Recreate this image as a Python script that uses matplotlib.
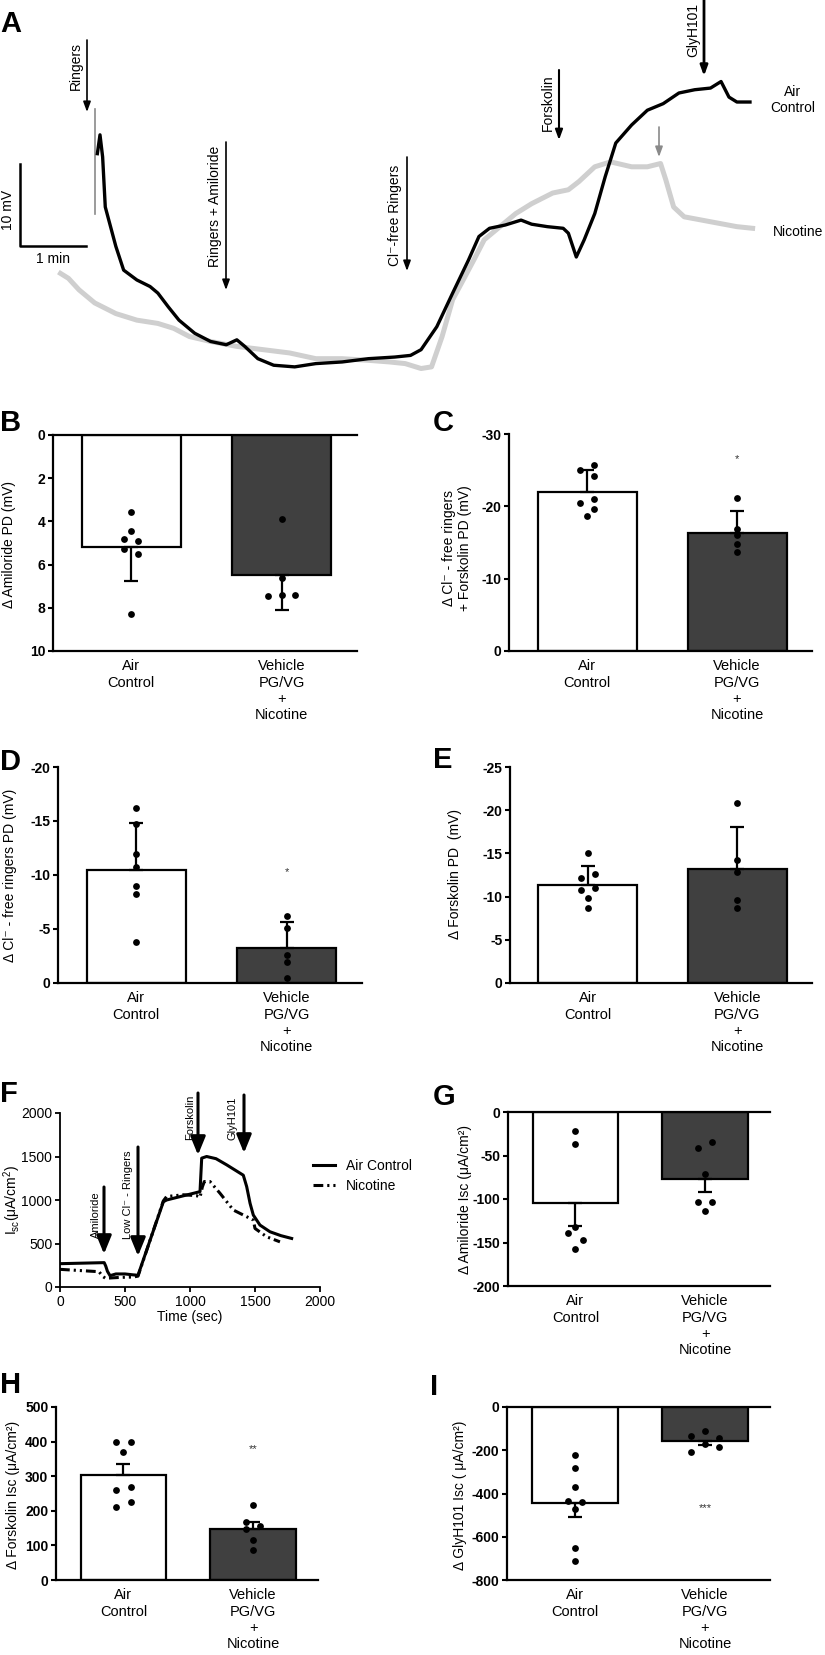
import matplotlib
matplotlib.use("Agg")
import matplotlib.pyplot as plt

plt.rcParams['font.family'] = ['Liberation Sans', 'DejaVu Sans']
plt.rcParams['mathtext.fontset'] = 'custom'
plt.rcParams['mathtext.rm'] = 'Liberation Sans'

# ---- panel A: PD traces (time in s, potential in mV) ----
air_t = [88.5, 90.9, 93.3, 95.7, 100.5, 105.3, 112.4, 124.4, 136.4, 143.5,
         153.1, 162.7, 177.0, 191.4, 205.7, 215.3, 222.5, 234.4, 248.8, 267.9,
         287.1, 311.0, 334.9, 358.9, 373.2, 382.8, 397.1, 411.5, 425.8, 435.4,
         445.0, 459.3, 473.7, 483.3, 497.6, 512.0, 516.7, 523.9, 531.1, 540.7,
         550.2, 559.8, 574.2, 588.5, 602.9, 617.2, 631.6, 645.9, 655.5, 662.7,
         669.9, 681.8]
air_mv = [27.6, 29.9, 27.2, 21.1, 18.7, 16.3, 13.4, 12.2, 11.4, 10.6,
          8.9, 7.3, 5.7, 4.7, 4.3, 4.9, 4.1, 2.6, 1.8, 1.6,
          2.0, 2.2, 2.6, 2.8, 3.0, 3.7, 6.5, 10.6, 14.6, 17.5,
          18.5, 18.9, 19.5, 19.0, 18.7, 18.5, 17.9, 15.0, 17.1, 20.3,
          24.8, 28.9, 31.1, 32.9, 33.7, 35.0, 35.4, 35.6, 36.4, 34.5,
          33.9, 33.9]
nic_t = [55.0, 62.2, 71.8, 86.1, 105.3, 124.4, 143.5, 157.9, 172.2, 191.4,
         215.3, 239.2, 263.2, 287.1, 311.0, 334.9, 354.1, 368.4, 382.8, 392.3,
         401.9, 411.5, 421.1, 430.6, 440.2, 454.5, 468.9, 483.3, 502.4, 516.7,
         526.3, 540.7, 555.0, 574.2, 588.5, 600.5, 605.3, 612.4, 622.0, 645.9,
         669.9, 684.2]
nic_mv = [13.0, 12.4, 11.0, 9.4, 8.1, 7.3, 6.9, 6.3, 5.3, 4.7,
          4.1, 3.7, 3.3, 2.6, 2.6, 2.4, 2.2, 2.0, 1.4, 1.6,
          5.3, 9.8, 12.2, 14.6, 17.1, 18.7, 20.3, 21.5, 22.8, 23.2,
          24.2, 26.0, 26.6, 26.0, 26.0, 26.4, 24.4, 21.1, 19.9, 19.3,
          18.7, 18.5]

# ---- panel F: Isc traces ----
f_air_t = [0, 340, 352, 365, 385, 430, 500, 560, 600, 795, 820, 1077,
           1090, 1128, 1200, 1282, 1410, 1436, 1462, 1487, 1538, 1615, 1700, 1782]
f_air_v = [268, 280, 240, 180, 130, 150, 150, 140, 135, 980, 1000, 1096,
           1481, 1500, 1475, 1404, 1285, 1154, 962, 827, 712, 635, 590, 558]
f_nic_t = [0, 300, 330, 350, 400, 460, 564, 600, 795, 820, 950, 1050, 1077,
           1095, 1110, 1154, 1231, 1333, 1436, 1487, 1500, 1590, 1692]
f_nic_v = [203, 176, 120, 100, 105, 110, 115, 125, 990, 1040, 1060, 1050, 1030,
           1150, 1212, 1212, 1077, 885, 808, 769, 673, 577, 519]

groups = ['Air\nControl', 'Vehicle\nPG/VG\n+\nNicotine']

# ---- bar panels: mean, sem, individual points ----
b_means = [5.2, 6.5]
b_sems = [1.55, 1.6]
b_air = [3.55, 4.45, 4.8, 4.9, 5.3, 5.5, 8.3]
b_veh = [3.9, 6.6, 7.45, 7.4, 7.4]

c_means = [-22.0, -16.3]
c_sems = [3.0, 3.0]
c_air = [-25.0, -25.7, -24.2, -21.0, -20.5, -19.7, -18.6]
c_veh = [-21.1, -16.8, -16.1, -14.8, -13.75]

d_means = [-10.5, -3.2]
d_sems = [4.3, 2.45]
d_air = [-16.2, -14.7, -11.9, -10.7, -9.0, -8.2, -3.8]
d_veh = [-6.2, -5.1, -2.6, -1.9, -0.5]

e_means = [-11.4, -13.2]
e_sems = [2.1, 4.9]
e_air = [-15.0, -12.2, -12.6, -11.0, -10.8, -9.8, -8.7]
e_veh = [-20.8, -14.2, -12.9, -9.6, -8.7]

g_means = [-104.8, -76.8]
g_sems = [25.7, 15.0]
g_air = [-22, -37, -132, -139, -147, -158]
g_veh = [-35, -41, -71, -103, -104, -114]

h_means = [304, 147]
h_sems = [32, 22]
h_air = [399, 399, 370, 270, 261, 224, 212]
h_veh = [218, 169, 156, 147, 116, 87]

i_means = [-442, -155]
i_sems = [65, 20]
i_air = [-224, -280, -368, -434, -440, -471, -653, -712]
i_veh = [-113, -136, -144, -170, -187, -209]

W, H = 825, 1655
fig = plt.figure(figsize=(W / 100, H / 100), dpi=100)


def fx(x):
    return x / W


def fy(y):
    return 1 - y / H


def rect(l, t, r, b):
    return [l / W, 1 - b / H, (r - l) / W, (b - t) / H]


def arrow(x, y0, y1, lw=1.2, color='black', ms=10, hl=0.6, hw=0.22):
    fig.add_artist(matplotlib.patches.FancyArrowPatch(
        (fx(x), fy(y0)), (fx(x), fy(y1)), transform=fig.transFigure,
        arrowstyle='-|>,head_length=%g,head_width=%g' % (hl, hw),
        mutation_scale=ms, lw=lw, color=color, shrinkA=0, shrinkB=0))


def vtext(x, y, s, size=10, **kw):
    fig.text(fx(x), fy(y), s, rotation=90, ha='center', va='center',
             fontsize=size, **kw)


# ================= A =================
ax_a = fig.add_axes(rect(0, 0, 825, 380))
ax_a.plot(nic_t, nic_mv, color='#cfcfcf', lw=3.6, solid_joinstyle='round')
ax_a.plot([86, 86], [20.3, 33.1], color='#8a8a8a', lw=1.2)
ax_a.plot(air_t, air_mv, color='black', lw=2.4, solid_joinstyle='round')
ax_a.plot([18.6, 18.6, 78.6], [26.3, 16.3, 16.3], color='black', lw=1.8)
ax_a.set_xlim(0, 750)
ax_a.set_ylim(0, 380 / 8.2)
ax_a.axis('off')

vtext(8, 210, '10 mV')
fig.text(fx(53), fy(259), '1 min', ha='center', va='center', fontsize=10)

arrow(87, 40, 112)
vtext(76, 66, 'Ringers')
arrow(226, 142, 290)
vtext(215, 206, 'Ringers + Amiloride')
arrow(407, 157, 271)
vtext(395, 215, 'Cl⁻-free Ringers')
arrow(559, 70, 140, lw=1.5)
vtext(548, 103, 'Forskolin')
arrow(704, 0, 76, lw=2)
vtext(693, 30, 'GlyH101')
arrow(659, 127, 157, color='#8a8a8a')
fig.text(fx(793), fy(100), 'Air\nControl', ha='center', va='center',
         fontsize=10, linespacing=1.15)
fig.text(fx(798), fy(232), 'Nicotine', ha='center', va='center', fontsize=10)


# ================= bar panels =================
def bar_panel(r, ylim, ticks, means, sems, air, veh, air_dx, veh_dx,
              top_line=False, star=None):
    ax = fig.add_axes(rect(*r))
    ax.bar([0, 1], means, width=0.66, color=['white', '#404040'],
           edgecolor='black', linewidth=1.6, zorder=2)
    for k in range(2):
        if means[k] > 0:
            yerr = [[0], [sems[k]]]
        else:
            yerr = [[sems[k]], [0]]
        ax.errorbar([k], [means[k]], yerr=yerr, fmt='none', ecolor='black',
                    elinewidth=1.6, capsize=5, capthick=1.6, zorder=3)
    ax.scatter(air_dx, air, s=24, color='black', zorder=4, linewidths=0)
    ax.scatter([1 + dx for dx in veh_dx], veh, s=24, color='black', zorder=4,
               linewidths=0)
    if star:
        ax.text(1, star[0], star[1], ha='center', va='center', fontsize=8,
                color='#333333')
    ax.set_xlim(-0.52, 1.5)
    ax.set_ylim(*ylim)
    ax.set_yticks(ticks)
    ax.set_yticklabels([str(t) for t in ticks], fontweight='bold', fontsize=10)
    ax.set_xticks([0, 1])
    ax.set_xticklabels(groups, fontsize=10.5, linespacing=1.2, va='top')
    ax.tick_params(axis='x', length=0, pad=6)
    ax.tick_params(axis='y', direction='out', length=3.5, width=1.5, pad=2)
    for s in ['top', 'right']:
        ax.spines[s].set_visible(False)
    for s in ['left', 'bottom']:
        ax.spines[s].set_linewidth(1.6)
    if top_line:
        ax.spines['top'].set_visible(True)
        ax.spines['top'].set_linewidth(1.6)
    return ax


bar_panel((53, 435, 357, 651), (10, 0), [0, 2, 4, 6, 8, 10], b_means, b_sems,
          b_air, b_veh, [0, 0, -0.048, 0.048, -0.048, 0.048, 0],
          [0, 0, -0.09, 0, 0.09], top_line=True)
vtext(9, 545, 'Δ Amiloride PD (mV)')

bar_panel((509, 434, 812, 651), (0, -30), [-30, -20, -10, 0], c_means, c_sems,
          c_air, c_veh, [-0.046, 0.046, 0.046, 0.046, -0.046, 0.046, 0],
          [0, 0, 0, 0, 0], star=(-26.6, '*'))
fig.text(fx(457), fy(548), 'Δ Cl⁻ - free ringers\n+ Forskolin PD (mV)',
         rotation=90, ha='center', va='center', fontsize=10, linespacing=1.15,
         multialignment='center')

bar_panel((58, 767, 362, 983), (0, -20), [-20, -15, -10, -5, 0], d_means,
          d_sems, d_air, d_veh, [0] * 7, [0] * 5, star=(-10.3, '*'))
vtext(10, 875, 'Δ Cl⁻ - free ringers PD (mV)')

bar_panel((510, 767, 812, 983), (0, -25), [-25, -20, -15, -10, -5, 0],
          e_means, e_sems, e_air, e_veh,
          [0, -0.046, 0.046, 0.046, -0.046, 0, 0], [0] * 5)
vtext(455, 874, 'Δ Forskolin PD  (mV)')

bar_panel((508, 1112, 770, 1286), (-200, 0), [0, -50, -100, -150, -200],
          g_means, g_sems, g_air, g_veh, [0, 0, 0, -0.056, 0.056, 0],
          [0.056, -0.056, 0, -0.056, 0.056, 0], top_line=True)
vtext(465, 1200, 'Δ Amiloride Isc (μA/cm²)')

bar_panel((56, 1407, 318, 1580), (0, 500), [0, 100, 200, 300, 400, 500],
          h_means, h_sems, h_air, h_veh,
          [-0.055, 0.055, 0, 0.055, -0.055, 0.055, -0.055],
          [0, -0.056, 0.055, -0.056, 0, 0], star=(379, '**'))
vtext(13, 1495, 'Δ Forskolin Isc (μA/cm²)')

bar_panel((507, 1407, 770, 1580), (-800, 0), [0, -200, -400, -600, -800],
          i_means, i_sems, i_air, i_veh,
          [0, 0, 0, -0.055, 0.055, 0, 0, 0],
          [0, -0.108, 0.108, 0, 0.108, -0.108], top_line=True,
          star=(-468, '***'))
vtext(460, 1495, 'Δ GlyH101 Isc ( μA/cm²)')

# ================= F =================
ax_f = fig.add_axes(rect(60, 1113, 320, 1287))
ax_f.plot(f_air_t, f_air_v, color='black', lw=2.2, label='Air Control')
ax_f.plot(f_nic_t, f_nic_v, color='black', lw=2.2,
          linestyle=(0, (3.2, 1.3, 0.7, 1.3, 0.7, 1.3)), label='Nicotine')
ax_f.set_xlim(0, 2000)
ax_f.set_ylim(0, 2000)
ax_f.set_xticks([0, 500, 1000, 1500, 2000])
ax_f.set_yticks([0, 500, 1000, 1500, 2000])
ax_f.tick_params(direction='out', length=3.5, width=1.3, labelsize=10, pad=2)
for s in ['top', 'right']:
    ax_f.spines[s].set_visible(False)
for s in ['left', 'bottom']:
    ax_f.spines[s].set_linewidth(1.3)
ax_f.set_xlabel('Time (sec)', fontsize=10, labelpad=1)
vtext(12, 1200, r'I$_{\mathrm{sc}}$(μA/cm$^{2}$)')
ax_f.legend(loc='center left', bbox_to_anchor=(fx(300), fy(1176)),
            bbox_transform=fig.transFigure, frameon=False, fontsize=10,
            handlelength=1.6, handletextpad=0.8, labelspacing=0.45)

fa = dict(lw=2.2, ms=10, hl=1.1, hw=0.45)
arrow(104, 1187, 1254, **fa)
vtext(96, 1215, 'Amiloride', size=8)
arrow(138, 1147, 1256, **fa)
vtext(128, 1195, 'Low Cl⁻ - Ringers', size=8)
arrow(198, 1093, 1155, **fa)
vtext(190, 1117, 'Forskolin', size=8)
arrow(244, 1095, 1153, **fa)
vtext(233, 1118, 'GlyH101', size=8)

# panel letters
for lt, x, y in [('A', 0, 10), ('B', 0, 409), ('C', 433, 409), ('D', 0, 748),
                 ('E', 433, 746), ('F', 0, 1080), ('G', 433, 1083),
                 ('H', 0, 1371), ('I', 430, 1373)]:
    fig.text(fx(x), fy(y), lt, ha='left', va='top', fontsize=21,
             fontweight='bold')

fig.savefig('out.png', dpi=100)
